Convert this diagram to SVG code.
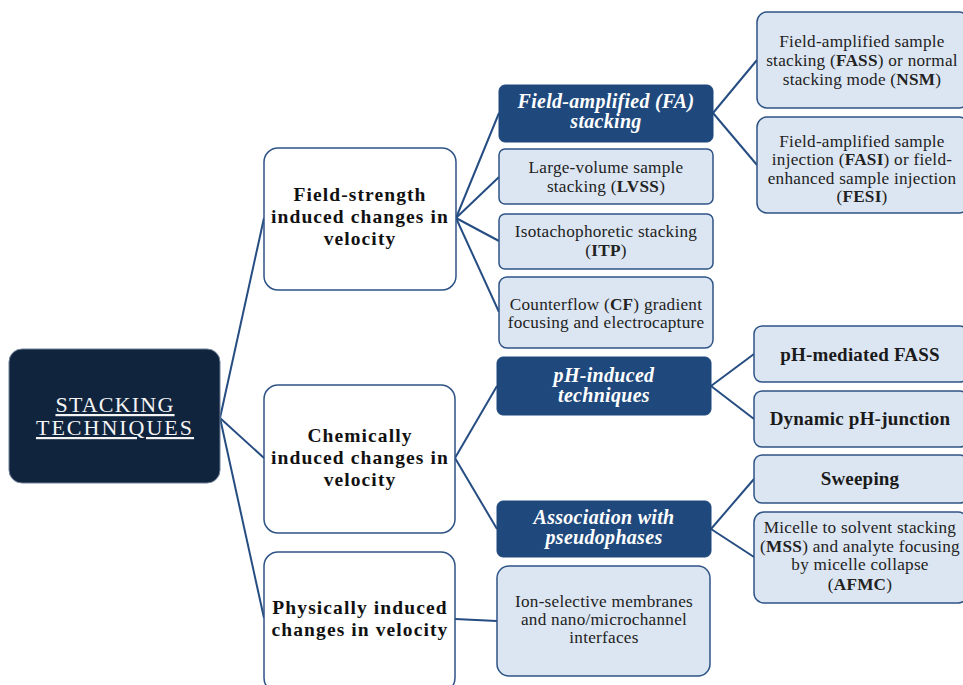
<svg xmlns="http://www.w3.org/2000/svg" width="963" height="685" viewBox="0 0 963 685" font-family="'Liberation Serif', 'DejaVu Serif', serif">
<style>
text{font-family:'Liberation Serif','DejaVu Serif',serif;text-anchor:middle;}
.root{fill:#10243e;stroke:#6d7f95;stroke-width:1;}
.mid{fill:#ffffff;stroke:#2e5385;stroke-width:1.5;}
.dark{fill:#1f497d;stroke:#1f497d;stroke-width:1;}
.light{fill:#dce6f2;stroke:#2e5385;stroke-width:1.5;}
.tr{fill:#f4f4f4;font-size:22px;letter-spacing:1.2px;text-decoration:underline;}
.tm{fill:#111111;font-size:19.5px;font-weight:bold;letter-spacing:1.1px;}
.td{fill:#ffffff;font-size:20px;font-weight:bold;font-style:italic;letter-spacing:0.3px;}
.tl{fill:#222222;font-size:17.2px;letter-spacing:0.25px;}
.tb{fill:#1a1a1a;font-size:19px;font-weight:bold;letter-spacing:0.2px;}
.b{font-weight:bold;}
.conn line{stroke:#264d82;stroke-width:2;fill:none;}
</style>
<g id="connectors" class="conn">
<line x1="220" y1="418" x2="264" y2="218"/>
<line x1="220" y1="418" x2="264" y2="458"/>
<line x1="220" y1="418" x2="264" y2="618"/>
<line x1="456" y1="218" x2="499" y2="113"/>
<line x1="456" y1="218" x2="499" y2="177"/>
<line x1="456" y1="218" x2="499" y2="241"/>
<line x1="456" y1="218" x2="499" y2="312"/>
<line x1="713" y1="113" x2="757" y2="60"/>
<line x1="713" y1="113" x2="757" y2="165"/>
<line x1="455" y1="458" x2="497" y2="386"/>
<line x1="455" y1="458" x2="497" y2="529"/>
<line x1="711" y1="386" x2="754" y2="354"/>
<line x1="711" y1="386" x2="754" y2="419"/>
<line x1="711" y1="529" x2="754" y2="479"/>
<line x1="711" y1="529" x2="754" y2="557"/>
<line x1="455" y1="619" x2="497" y2="621"/>
</g>
<g id="root">
<rect class="root" x="9" y="349" width="211" height="134" rx="13"/>
<text class="tr" x="115" y="412">STACKING</text>
<text class="tr" x="115" y="435" style="letter-spacing:2px">TECHNIQUES</text>
</g>
<g id="field-strength">
<rect class="mid" x="264" y="148" width="192" height="142" rx="14"/>
<text class="tm" x="360" y="201">Field-strength</text>
<text class="tm" x="360" y="223">induced changes in</text>
<text class="tm" x="360" y="245">velocity</text>
</g>
<g id="chemically">
<rect class="mid" x="264" y="385" width="191" height="148" rx="14"/>
<text class="tm" x="360" y="442">Chemically</text>
<text class="tm" x="360" y="464">induced changes in</text>
<text class="tm" x="360" y="486">velocity</text>
</g>
<g id="physically">
<rect class="mid" x="264" y="552" width="191" height="140" rx="14"/>
<text class="tm" x="360" y="614">Physically induced</text>
<text class="tm" x="360" y="636">changes in velocity</text>
</g>
<g id="fa-stacking">
<rect class="dark" x="499" y="85" width="214" height="57" rx="6"/>
<text class="td" x="606" y="108">Field-amplified (FA)</text>
<text class="td" x="606" y="128">stacking</text>
</g>
<g id="lvss">
<rect class="light" x="499" y="149" width="214" height="55" rx="6"/>
<text class="tl" x="606" y="173">Large-volume sample</text>
<text class="tl" x="606" y="192">stacking (<tspan class="b">LVSS</tspan>)</text>
</g>
<g id="itp">
<rect class="light" x="499" y="214" width="214" height="55" rx="6"/>
<text class="tl" x="606" y="237">Isotachophoretic stacking</text>
<text class="tl" x="606" y="256">(<tspan class="b">ITP</tspan>)</text>
</g>
<g id="cf">
<rect class="light" x="499" y="277" width="214" height="71" rx="8"/>
<text class="tl" x="606" y="310">Counterflow (<tspan class="b">CF</tspan>) gradient</text>
<text class="tl" x="606" y="328">focusing and electrocapture</text>
</g>
<g id="fass">
<rect class="light" x="757" y="12" width="212" height="96" rx="10"/>
<text class="tl" x="862" y="47">Field-amplified sample</text>
<text class="tl" x="862" y="66">stacking (<tspan class="b">FASS</tspan>) or normal</text>
<text class="tl" x="862" y="85">stacking mode (<tspan class="b">NSM</tspan>)</text>
</g>
<g id="fasi">
<rect class="light" x="757" y="117" width="212" height="96" rx="10"/>
<text class="tl" x="862" y="147">Field-amplified sample</text>
<text class="tl" x="862" y="165">injection (<tspan class="b">FASI</tspan>) or field-</text>
<text class="tl" x="862" y="184">enhanced sample injection</text>
<text class="tl" x="862" y="202">(<tspan class="b">FESI</tspan>)</text>
</g>
<g id="ph-induced">
<rect class="dark" x="497" y="357" width="214" height="58" rx="6"/>
<text class="td" x="604" y="382">pH-induced</text>
<text class="td" x="604" y="402">techniques</text>
</g>
<g id="association">
<rect class="dark" x="497" y="501" width="214" height="56" rx="6"/>
<text class="td" x="604" y="524">Association with</text>
<text class="td" x="604" y="544">pseudophases</text>
</g>
<g id="ph-mediated-fass">
<rect class="light" x="754" y="326" width="214" height="56" rx="8"/>
<text class="tb" x="860" y="361">pH-mediated FASS</text>
</g>
<g id="dynamic-ph-junction">
<rect class="light" x="754" y="391" width="214" height="56" rx="8"/>
<text class="tb" x="860" y="425">Dynamic pH-junction</text>
</g>
<g id="sweeping">
<rect class="light" x="754" y="455" width="214" height="48" rx="8"/>
<text class="tb" x="860" y="485">Sweeping</text>
</g>
<g id="mss">
<rect class="light" x="754" y="512" width="214" height="91" rx="10"/>
<text class="tl" x="860" y="533">Micelle to solvent stacking</text>
<text class="tl" x="860" y="552">(<tspan class="b">MSS</tspan>) and analyte focusing</text>
<text class="tl" x="860" y="570">by micelle collapse</text>
<text class="tl" x="860" y="590">(<tspan class="b">AFMC</tspan>)</text>
</g>
<g id="ion-selective">
<rect class="light" x="497" y="566" width="213" height="110" rx="12"/>
<text class="tl" x="604" y="607">Ion-selective membranes</text>
<text class="tl" x="604" y="625">and nano/microchannel</text>
<text class="tl" x="604" y="643">interfaces</text>
</g>
</svg>
